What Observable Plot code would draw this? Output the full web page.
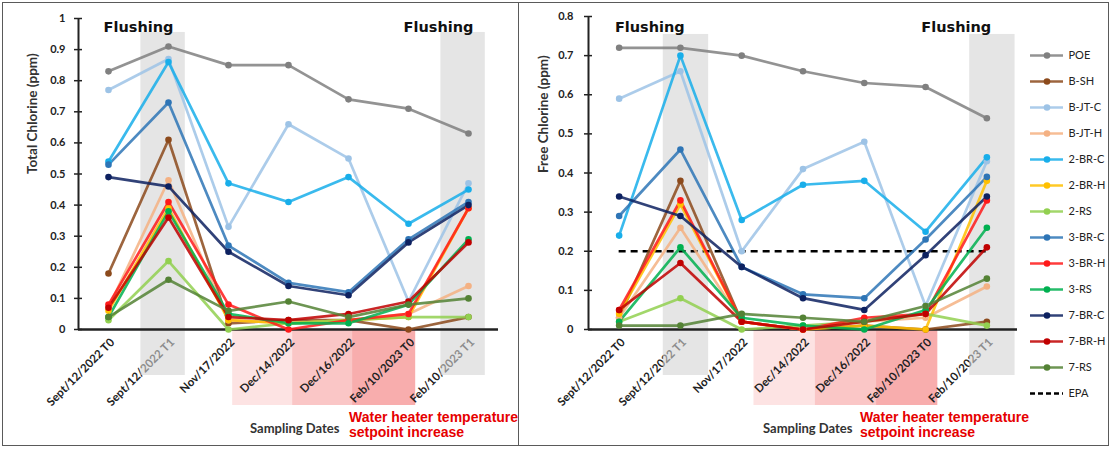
<!DOCTYPE html>
<html><head><meta charset="utf-8">
<script src="https://cdn.jsdelivr.net/npm/d3@7"></script>
<script src="https://cdn.jsdelivr.net/npm/@observablehq/plot@0.6"></script>
<style>
body{margin:0;background:#fff;}
#wrap{position:relative;width:1111px;height:449px;overflow:hidden;background:#fff;font-family:Lato,sans-serif;}
.panel{position:absolute;border:1.5px solid #5a5a5a;box-sizing:border-box;}
.abs{position:absolute;top:0;}
.xl{position:absolute;font:bold 13px Lato,sans-serif;color:#333;white-space:nowrap;}
.red{position:absolute;font:bold 14px "Liberation Sans",Arial,sans-serif;color:#e60000;line-height:15px;white-space:nowrap;}
</style></head><body>
<div id="wrap">
  <div class="panel" style="left:2px;top:2px;width:517px;height:444px"></div>
  <div class="panel" style="left:518px;top:2px;width:591px;height:444px"></div>
  <div id="left" class="abs" style="left:0"></div>
  <div id="right" class="abs" style="left:519px"></div>
  <div id="legend" class="abs" style="left:1020px"></div>
  <div class="xl" style="left:250px;top:420px">Sampling Dates</div>
  <div class="red" style="left:349px;top:410px">Water heater temperature<br>setpoint increase</div>
  <div class="xl" style="left:763px;top:420px">Sampling Dates</div>
  <div class="red" style="left:860px;top:410px">Water heater temperature<br>setpoint increase</div>
</div>
<script>
const dates = ["Sept/12/2022 T0","Sept/12/2022 T1","Nov/17/2022","Dec/14/2022","Dec/16/2022","Feb/10/2023 T0","Feb/10/2023 T1"];
const seriesNames = ["POE","B-SH","B-JT-C","B-JT-H","2-BR-C","2-BR-H","2-RS","3-BR-C","3-BR-H","3-RS","7-BR-C","7-BR-H","7-RS"];
const seriesColors = ["#808080","#8c4a1c","#9dc3e6","#f4b183","#18aeea","#ffc000","#92d050","#2e75b6","#ff1a1a","#00b050","#0d2160","#c00000","#548235"];
// Total chlorine (ppm), one row per series in seriesNames order, one value per date
const totalChlorine = [
  [0.83,0.91,0.85,0.85,0.74,0.71,0.63],
  [0.18,0.61,0.02,0.03,0.03,0.00,0.04],
  [0.77,0.87,0.33,0.66,0.55,0.09,0.47],
  [0.07,0.48,0.03,0.02,0.03,0.05,0.14],
  [0.54,0.86,0.47,0.41,0.49,0.34,0.45],
  [0.06,0.39,0.03,0.02,0.03,0.04,0.39],
  [0.03,0.22,0.00,0.02,0.03,0.04,0.04],
  [0.53,0.73,0.27,0.15,0.12,0.29,0.41],
  [0.08,0.41,0.08,0.00,0.03,0.05,0.39],
  [0.04,0.38,0.05,0.02,0.02,0.08,0.29],
  [0.49,0.46,0.25,0.14,0.11,0.28,0.40],
  [0.07,0.36,0.04,0.03,0.05,0.09,0.28],
  [0.04,0.16,0.06,0.09,0.04,0.08,0.10]
];
// Free chlorine (ppm)
const freeChlorine = [
  [0.72,0.72,0.70,0.66,0.63,0.62,0.54],
  [0.03,0.38,0.02,0.00,0.01,0.00,0.02],
  [0.59,0.66,0.20,0.41,0.48,0.06,0.43],
  [0.03,0.26,0.02,0.00,0.02,0.03,0.11],
  [0.24,0.70,0.28,0.37,0.38,0.25,0.44],
  [0.04,0.32,0.02,0.00,0.01,0.00,0.38],
  [0.02,0.08,0.00,0.01,0.02,0.04,0.01],
  [0.29,0.46,0.16,0.09,0.08,0.23,0.39],
  [0.05,0.33,0.02,0.00,0.03,0.04,0.33],
  [0.02,0.21,0.03,0.01,0.00,0.05,0.26],
  [0.34,0.29,0.16,0.08,0.05,0.19,0.34],
  [0.05,0.17,0.02,0.00,0.02,0.04,0.21],
  [0.01,0.01,0.04,0.03,0.02,0.06,0.13]
];
const epaLimit = 0.2;
const flushingDates = ["Sept/12/2022 T1","Feb/10/2023 T1"];
const flushingLabel = "Flushing";
const heaterDates = ["Dec/14/2022","Dec/16/2022","Feb/10/2023 T0"];
const heaterColors = ["#fde3e3","#fac6c6","#f8adad"];

function panel(values, o) {
  const rows = [];
  seriesNames.forEach((name, s) => values[s].forEach((v, i) => rows.push({name, i, v, color: seriesColors[s]})));
  const flush = flushingDates.map(d => ({i: dates.indexOf(d)}));
  const heat = heaterDates.map((d, k) => ({i: dates.indexOf(d), fill: heaterColors[k]}));
  const yTicks = d3.range(0, o.ymax + 1e-9, 0.1).map(v => +v.toFixed(1));
  const n = dates.length;
  const marks = [
    Plot.rect(heat, {x1: d => d.i + o.heat[0], x2: d => d.i + o.heat[1], y1: 0, y2: 0, insetBottom: -76, fill: "fill"}),
    Plot.text(dates, {x: (d, i) => i, y: 0, text: d => d, rotate: -45, textAnchor: "end", dx: 4, dy: 11, fontWeight: "bold", fontSize: 11.5, fill: "#222"}),
    Plot.rect(flush, {x1: d => d.i + o.band[0], x2: d => d.i + o.band[1], y1: o.grayTop, y2: 0, insetBottom: -46, fill: "#d3d3d3", fillOpacity: 0.6}),
  ];
  if (o.epa) marks.push(Plot.ruleY([epaLimit], {x1: 0, x2: n - 1, stroke: "#000", strokeWidth: 2.5, strokeDasharray: "7,5"}));
  marks.push(
    Plot.ruleY(yTicks, {x1: -0.5, x2: -0.5, insetLeft: -4, insetRight: -4, stroke: "#222", strokeWidth: 1.5}),
    Plot.text(yTicks, {frameAnchor: "left", y: d => d, text: d => String(d), textAnchor: "end", dx: -o.tickPad, fontWeight: "bold", fontSize: 11, fill: "#222"}),
    Plot.ruleX([-0.5], {y1: 0, y2: o.ymax, stroke: "#222", strokeWidth: 2}),
    Plot.ruleY([0], {x1: -0.5, x2: n - 0.5, stroke: "#222", strokeWidth: 2.5}),
    Plot.line(rows, {x: "i", y: "v", z: "name", stroke: "color", strokeWidth: 2.7, strokeOpacity: 0.85}),
    Plot.dot(rows, {x: "i", y: "v", fill: "color", r: 3.3}),
    Plot.text(flush, {x: d => d.i - 0.5, frameAnchor: "top", text: () => flushingLabel, dy: o.flushDy, fontFamily: "DejaVu Sans", fontWeight: "bold", fontSize: 14.5, fill: "#111"}),
    Plot.text([o.title], {frameAnchor: "left", y: o.ymax / 2, dx: -o.titleOffset, rotate: -90, text: d => d, fontWeight: "bold", fontSize: 13.5, fill: "#333"})
  );
  return Plot.plot({
    width: o.width, height: 449,
    marginLeft: o.ml, marginRight: o.mr, marginTop: o.mt, marginBottom: 120,
    x: {type: "linear", domain: [-0.5, n - 0.5], axis: null},
    y: {domain: [0, o.ymax], axis: null},
    color: {type: "identity"},
    style: {fontFamily: "Lato, sans-serif", overflow: "visible", background: "transparent"},
    marks
  });
}

document.getElementById("left").append(panel(totalChlorine, {
  width: 518, ml: 78, mr: 20, mt: 18, ymax: 1, grayTop: 0.955, band: [-0.46, 0.28], heat: [-0.93, 0.12],
  tickPad: 13, flushDy: 3, title: "Total Chlorine (ppm)", titleOffset: 46, epa: false
}));
document.getElementById("right").append(panel(freeChlorine, {
  width: 592, ml: 69, mr: 94, mt: 16, ymax: 0.8, grayTop: 0.754, band: [-0.28, 0.46], heat: [-0.8, 0.2],
  tickPad: 15, flushDy: 5, title: "Free Chlorine (ppm)", titleOffset: 45, epa: true
}));

const legendNames = [...seriesNames, "EPA"];
const legendRows = seriesNames.map((name, k) => ({name, color: seriesColors[k]}));
document.getElementById("legend").append(Plot.plot({
  width: 90, height: 449, marginLeft: 10, marginRight: 47, marginTop: 49, marginBottom: 51,
  x: {domain: [0, 1], axis: null},
  y: {type: "point", domain: legendNames, padding: 0, axis: null},
  color: {type: "identity"},
  style: {fontFamily: "Lato, sans-serif", overflow: "visible", background: "transparent"},
  marks: [
    Plot.ruleY(legendRows, {y: "name", x1: 0, x2: 1, stroke: "color", strokeWidth: 2.7, strokeOpacity: 0.85}),
    Plot.dot(legendRows, {x: 0.5, y: "name", fill: "color", r: 3.3}),
    Plot.ruleY(["EPA"], {y: d => d, x1: 0, x2: 1, stroke: "#000", strokeWidth: 2.5, strokeDasharray: "5,3"}),
    Plot.text(legendNames, {x: 1, y: d => d, text: d => d, textAnchor: "start", dx: 5, fontWeight: d => d === "EPA" ? "normal" : "bold", fontSize: 11, fill: "#222"})
  ]
}));
</script>
</body></html>
